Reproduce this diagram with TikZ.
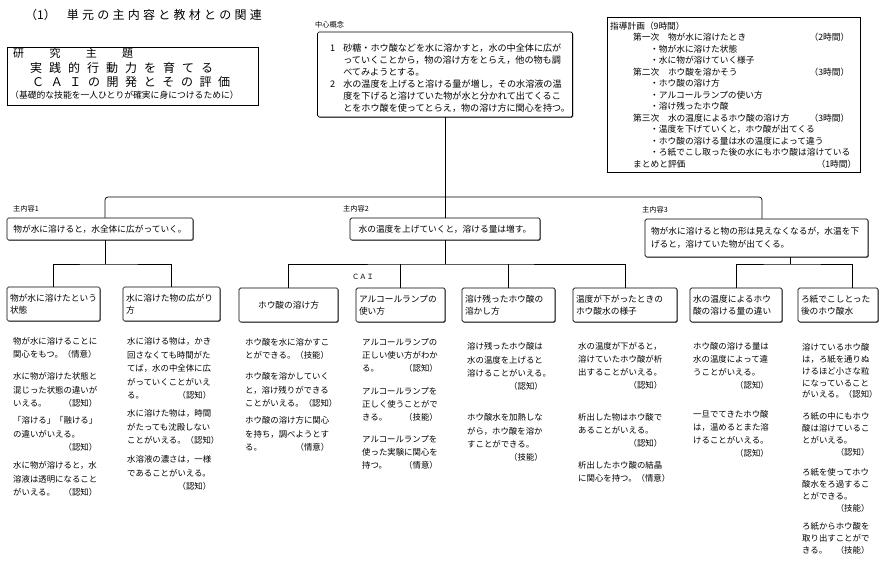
\documentclass[tikz,border=0pt]{standalone}
\usepackage{fontspec}
\setmainfont{Noto Sans CJK JP}
\usetikzlibrary{shadows}
\makeatletter
\def\sprd#1#2{\makebox[#1][s]{\sprd@#2\@nil}}
\def\sprd@#1#2{#1\ifx#2\@nil\else\hfill\expandafter\sprd@\expandafter#2\fi}
\makeatother
\tikzset{
  conn/.style={line width=0.7pt},
  box/.style={draw, line width=0.7pt, rounded corners=1.5pt, inner sep=0pt, fill=white,
    drop shadow={shadow xshift=0.8pt, shadow yshift=-0.8pt, fill=black!55, opacity=1}},
  plainbox/.style={draw, line width=0.7pt, inner sep=0pt},
  para/.style={anchor=north west, inner sep=0pt, align=left},
  col/.style 2 args={para, text width=#1pt, font=\fontsize{8.4}{#2pt}\selectfont},
  lbl/.style={anchor=west, inner sep=0pt, font=\fontsize{7.2}{9}\selectfont},
  bbox/.style={box, minimum height=34pt, font=\fontsize{8.7}{12}\selectfont},
}
\begin{document}
\begin{tikzpicture}[x=1pt,y=-1pt]
\useasboundingbox (0,0) rectangle (885,564);
\fill[white] (0,0) rectangle (885,564);

% title
\node[anchor=west, inner sep=0pt, font=\fontsize{12}{14}\selectfont] (title) at (25,15)
  {（1）\hspace{11pt}\sprd{195pt}{単元の主内容と教材との関連}};

% research theme
\node[plainbox, minimum width=251pt, minimum height=58pt] (theme) at (132.5,76) {};
\node[anchor=west, inner sep=0pt, font=\fontsize{11}{12}\selectfont] (th1) at (13,53) {\sprd{120pt}{研究主題}};
\node[anchor=west, inner sep=0pt, font=\fontsize{12}{13}\selectfont] (th2) at (30,68) {\sprd{183pt}{実践的行動力を育てる}};
\node[anchor=west, inner sep=0pt, font=\fontsize{12}{13}\selectfont] (th3) at (32,82) {\sprd{198pt}{ＣＡＩの開発とその評価}};
\node[anchor=west, inner sep=0pt, font=\fontsize{8.8}{10}\selectfont] (th4) at (10,95) {（基礎的な技能を一人ひとりが確実に身につけるために）};

% central concept
\node[lbl] (conlbl) at (315,25) {中心概念};
\node[box, minimum width=255pt, minimum height=85pt] (concept) at (445,74.5) {};
\node[para, font=\fontsize{9.1}{12}\selectfont] (contxt) at (330,43) {%
\begin{tabular}{@{}l@{\hspace{8pt}}l@{}}
1 & 砂糖・ホウ酸などを水に溶かすと，水の中全体に広が\\
  & っていくことから，物の溶け方をとらえ，他の物も調\\
  & べてみようとする。\\
2 & 水の温度を上げると溶ける量が増し，その水溶液の温\\
  & 度を下げると溶けていた物が水と分かれて出てくるこ\\
  & とをホウ酸を使ってとらえ，物の溶け方に関心を持つ。
\end{tabular}};

% teaching plan
\node[plainbox, minimum width=253pt, minimum height=155pt] (plan) at (733.5,94.5) {};
\node[para, text width=247pt, font=\fontsize{8.7}{11.5}\selectfont] (plantxt) at (610,21.5) {%
指導計画（9時間）\\
\hspace*{23pt}第一次　物が水に溶けたとき\hfill（2時間）\kern8pt\\
\hspace*{40pt}・物が水に溶けた状態\\
\hspace*{40pt}・水に物が溶けていく様子\\
\hspace*{23pt}第二次　ホウ酸を溶かそう\hfill（3時間）\kern8pt\\
\hspace*{40pt}・ホウ酸の溶け方\\
\hspace*{40pt}・アルコールランプの使い方\\
\hspace*{40pt}・溶け残ったホウ酸\\
\hspace*{23pt}第三次　水の温度によるホウ酸の溶け方\hfill（3時間）\kern8pt\\
\hspace*{40pt}・温度を下げていくと，ホウ酸が出てくる\\
\hspace*{40pt}・ホウ酸の溶ける量は水の温度によって違う\\
\hspace*{40pt}・ろ紙でこし取った後の水にもホウ酸は溶けている\\
\hspace*{23pt}まとめと評価\hfill（1時間）\kern1pt};

% main contents
\node[lbl] (ml1) at (13,209) {主内容1};
\node[lbl] (ml2) at (343,209) {主内容2};
\node[lbl] (ml3) at (642,210) {主内容3};
\node[box, minimum width=186pt, minimum height=22pt, font=\fontsize{8.7}{12}\selectfont] (m1) at (100,229) {物が水に溶けると，水全体に広がっていく。};
\node[box, minimum width=190pt, minimum height=22pt, font=\fontsize{8.7}{12}\selectfont] (m2) at (445,229) {水の温度を上げていくと，溶ける量は増す。};
\node[box, minimum width=223pt, minimum height=38pt, align=left, text width=211pt, font=\fontsize{8.7}{12.5}\selectfont] (m3) at (756.5,238) {物が水に溶けると物の形は見えなくなるが，水温を下\\げると，溶けていた物が出てくる。};

% sub topics
\node[bbox, minimum width=93pt, text width=87pt, align=left] (b1) at (53.5,304) {物が水に溶けたという\\状態};
\node[bbox, minimum width=97pt, text width=91pt, align=left] (b2) at (171.5,304) {水に溶けた物の広がり\\方};
\node[bbox, minimum width=99pt, align=center] (b3) at (288.5,305) {ホウ酸の溶け方};
\node[bbox, minimum width=89pt, text width=83pt, align=left] (b4) at (400.5,305) {アルコールランプの\\使い方};
\node[bbox, minimum width=93pt, text width=87pt, align=left] (b5) at (508.5,305) {溶け残ったホウ酸の\\溶かし方};
\node[bbox, minimum width=104pt, text width=98pt, align=left] (b6) at (625,305) {温度が下がったときの\\ホウ酸水の様子};
\node[bbox, minimum width=92pt, text width=86pt, align=left] (b7) at (736,305) {水の温度によるホウ\\酸の溶ける量の違い};
\node[bbox, minimum width=80pt, text width=74pt, align=left] (b8) at (838,305) {ろ紙でこしとった\\後のホウ酸水};
\node[lbl, anchor=center, font=\fontsize{7.2}{9}\selectfont] (cai) at (363,277) {ＣＡＩ};

% connectors
\coordinate (bus) at (445,197);
\draw[conn] (concept.south) -- (m2.north);
\draw[conn, rounded corners=3pt] ([xshift=5pt]m1.north) |- (bus) -| ([xshift=5.5pt]m3.north);
\coordinate (j1) at (105,264);
\draw[conn] ([xshift=5pt]m1.south) -- (j1);
\draw[conn] (b1.north) |- (j1) -| (b2.north);
\coordinate (j2) at (445,264);
\draw[conn] (m2.south) -- (j2);
\draw[conn] (b3.north) |- (j2) -| (b6.north);
\draw[conn] (b4.north) -- (b4.north |- j2);
\draw[conn] (b5.north) -- (b5.north |- j2);
\coordinate (j3) at (790,264);
\draw[conn] (m3.south -| j3) -- (j3);
\draw[conn] (b7.north) |- (j3) -| ([xshift=14pt]b8.north);

% column 1
\node[col={84}{13.3}] (t1a) at (13,337) {物が水に溶けることに\\関心をもつ。（情意）};
\node[col={84}{13.3}] (t1b) at (13,372.5) {水に物が溶けた状態と\\混じった状態の違いが\\いえる。\hfill（認知）};
\node[col={84}{13.3}] (t1c) at (13,416.5) {「溶ける」「融ける」\\の違いがいえる。\\\mbox{}\hfill（認知）};
\node[col={84}{13.3}] (t1d) at (13,461.5) {水に物が溶けると，水\\溶液は透明になること\\がいえる。\hfill（認知）};
% column 2
\node[col={84}{13.5}] (t2a) at (127,337.5) {水に溶ける物は，かき\\回さなくても時間がた\\てば，水の中全体に広\\がっていくことがいえ\\る。\hfill（認知）};
\node[col={84}{13.5}] (t2b) at (127,409.5) {水に溶けた物は，時間\\がたっても沈殿しない\\ことがいえる。（認知）};
\node[col={84}{13.5}] (t2c) at (127,455.5) {水溶液の濃さは，一様\\であることがいえる。\\\mbox{}\hfill（認知）};
% column 3
\node[col={84}{13.3}] (t3a) at (245,338) {ホウ酸を水に溶かすこ\\とができる。（技能）};
\node[col={84}{13.3}] (t3b) at (245,372.5) {ホウ酸を溶かしていく\\と，溶け残りができる\\ことがいえる。（認知）};
\node[col={84}{13.3}] (t3c) at (245,416.5) {ホウ酸の溶け方に関心\\を持ち，調べようとす\\る。\hfill（情意）};
% column 4
\node[col={75.6}{12.7}] (t4a) at (362,338.5) {アルコールランプの\\正しい使い方がわか\\る。\hfill（認知）};
\node[col={75.6}{12.7}] (t4b) at (362,387.5) {アルコールランプを\\正しく使うことがで\\きる。\hfill（技能）};
\node[col={75.6}{12.7}] (t4c) at (362,435.5) {アルコールランプを\\使った実験に関心を\\持つ。\hfill（情意）};
% column 5
\node[col={75.6}{13.3}] (t5a) at (467,342.5) {溶け残ったホウ酸は\\水の温度を上げると\\溶けることがいえる。\\\mbox{}\hfill（認知）};
\node[col={75.6}{13.3}] (t5b) at (467,413.5) {ホウ酸水を加熱しな\\がら，ホウ酸を溶か\\すことができる。\\\mbox{}\hfill（技能）};
% column 6
\node[col={84}{13}] (t6a) at (578,342.5) {水の温度が下がると，\\溶けていたホウ酸が析\\出することがいえる。\\\mbox{}\hfill（認知）};
\node[col={84}{13}] (t6b) at (578,413.5) {析出した物はホウ酸で\\あることがいえる。\\\mbox{}\hfill（認知）};
\node[col={84}{13}] (t6c) at (578,461.5) {析出したホウ酸の結晶\\に関心を持つ。（情意）};
% column 7
\node[col={75.6}{13}] (t7a) at (693,342.5) {ホウ酸の溶ける量は\\水の温度によって違\\うことがいえる。\\\mbox{}\hfill（認知）};
\node[col={75.6}{13}] (t7b) at (693,410.5) {一旦でてきたホウ酸\\は，温めるとまた溶\\けることがいえる。\\\mbox{}\hfill（認知）};
% column 8
\node[col={67.2}{11.8}] (t8a) at (802,343.5) {溶けているホウ酸\\は，ろ紙を通りぬ\\けるほど小さな粒\\になっていること\\がいえる。（認知）};
\node[col={67.2}{11.8}] (t8b) at (802,412.5) {ろ紙の中にもホウ\\酸は溶けているこ\\とがいえる。\\\mbox{}\hfill（認知）};
\node[col={67.2}{11.8}] (t8c) at (802,468.5) {ろ紙を使ってホウ\\酸水をろ過するこ\\とができる。\\\mbox{}\hfill（技能）};
\node[col={67.2}{11.8}] (t8d) at (802,522.5) {ろ紙からホウ酸を\\取り出すことがで\\きる。\hfill（技能）};
\end{tikzpicture}
\end{document}
